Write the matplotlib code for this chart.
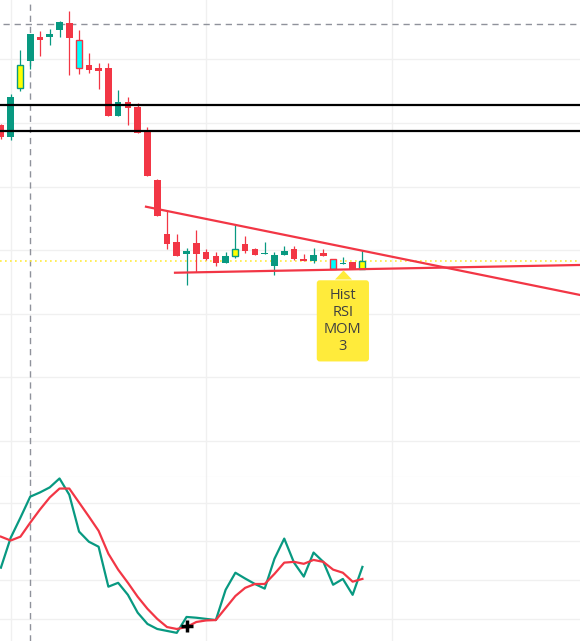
import matplotlib.pyplot as plt
from matplotlib.transforms import offset_copy

# candles (price units, hidden axis)
opens  = [3.484, 3.390, 3.775, 3.987, 4.176, 4.176, 4.231, 4.286, 4.153, 3.956,
          3.932, 3.932, 3.555, 3.665, 3.626, 3.429, 3.052, 2.627, 2.565, 2.470,
          2.557, 2.486, 2.454, 2.399, 2.454, 2.549, 2.509, 2.474, 2.376, 2.462,
          2.509, 2.431, 2.415, 2.478, 2.431, 2.395, 2.407, 2.352]
highs  = [3.492, 3.728, 4.074, 4.200, 4.223, 4.239, 4.302, 4.381, 4.231, 4.050,
          3.972, 3.972, 3.759, 3.704, 3.657, 3.469, 3.060, 2.808, 2.627, 2.517,
          2.659, 2.509, 2.486, 2.486, 2.698, 2.612, 2.517, 2.565, 2.486, 2.533,
          2.533, 2.470, 2.517, 2.509, 2.431, 2.447, 2.407, 2.502]
lows   = [3.374, 3.366, 3.752, 3.925, 4.027, 4.113, 4.176, 3.877, 3.885, 3.893,
          3.767, 3.555, 3.555, 3.484, 3.421, 3.083, 2.769, 2.509, 2.454, 2.226,
          2.329, 2.423, 2.376, 2.399, 2.439, 2.478, 2.462, 2.474, 2.305, 2.462,
          2.423, 2.415, 2.399, 2.454, 2.352, 2.392, 2.352, 2.352]
closes = [3.390, 3.704, 3.956, 4.200, 4.153, 4.200, 4.294, 4.168, 3.932, 3.917,
          3.909, 3.555, 3.665, 3.618, 3.421, 3.083, 2.769, 2.549, 2.454, 2.494,
          2.470, 2.431, 2.399, 2.454, 2.509, 2.494, 2.462, 2.482, 2.462, 2.494,
          2.431, 2.415, 2.462, 2.454, 2.352, 2.403, 2.352, 2.415]
hl_up = [2, 24, 37]
hl_dn = [8, 34]

# levels and trend lines
levels = [3.644, 3.440]
cross_price = 4.276
cross_bar = 3
trend1 = [(14.85, 2.842), (38.80, 2.468)]
trend2 = [(17.82, 2.323), (59.27, 2.384)]

# indicator pane
fast = [33.2, 40.9, 46.1, 51.5, 52.6, 53.9, 56.2, 52.0, 42.5, 39.9,
        38.6, 28.3, 29.3, 26.2, 21.6, 18.7, 17.4, 16.9, 16.4, 20.5,
        20.3, 20.0, 19.7, 27.5, 31.9, 30.4, 29.0, 27.8, 35.5, 40.7,
        34.5, 30.9, 37.1, 34.7, 28.8, 30.3, 26.2, 33.4]
slow = [41.2, 40.2, 41.2, 44.8, 48.2, 51.3, 53.6, 53.6, 50.0, 46.4,
        42.7, 36.8, 32.7, 29.3, 25.7, 22.6, 20.0, 17.9, 17.4, 17.9,
        19.2, 19.6, 19.7, 22.8, 25.9, 28.0, 29.0, 29.0, 31.6, 34.5,
        34.7, 34.2, 35.2, 34.7, 32.7, 31.9, 29.6, 30.3]
cursor = (19, 18.2)

label_bar = 35
label_text = "Hist\nRSI\nMOM\n3"

GREEN = "#089981"
RED = "#F23645"
GRID = "#f0f0f0"
XLIM = (-0.092, 59.27)

fig = plt.figure(figsize=(5.8, 6.41), dpi=100)
ax = fig.add_axes([0, 0.2566, 1, 0.7434])
ax2 = fig.add_axes([0, 0, 1, 0.2566])

for a in (ax, ax2):
    a.set_xlim(XLIM)
    a.set_xticks([1, 21, 40])
    a.tick_params(length=0, labelleft=False, labelbottom=False)
    a.grid(True, color=GRID, lw=1)
    a.set_axisbelow(True)
    for s in a.spines.values():
        s.set_visible(False)
    a.axvline(cross_bar, color="#8f929b", lw=1, dashes=(4.5, 3.5), zorder=1)

ax.set_ylim(0.721, 4.467)
ax.set_yticks([1.0, 1.5, 2.0, 2.5, 3.0, 3.5, 4.0])
ax.spines["bottom"].set_visible(True)
ax.spines["bottom"].set_color("#e0e3eb")

ax.axhline(cross_price, xmin=0.006, color="#8f929b", lw=1, dashes=(4.5, 3.5), zorder=1)
ax.axhline(closes[-1], color="#FFEB3B", lw=1.2, ls=(0, (1, 2)), zorder=1)
for lv in levels:
    ax.axhline(lv, color="black", lw=1.6, zorder=4)

for i in range(len(opens)):
    o, h, l, c = opens[i], highs[i], lows[i], closes[i]
    col = GREEN if c >= o else RED
    ax.vlines(i, l, h, color=col, lw=0.9, zorder=2)
    bot = min(o, c)
    ht = max(abs(c - o), 0.008)
    if i in hl_up:
        ax.bar(i, ht, 0.62, bot, color="#FFFF00", edgecolor=GREEN, lw=1, zorder=3)
    elif i in hl_dn:
        ax.bar(i, ht, 0.62, bot, color="#00FFFF", edgecolor=RED, lw=1, zorder=3)
    else:
        ax.bar(i, ht, 0.68, bot, color=col, lw=0, zorder=3)

for (x0, y0), (x1, y1) in (trend1, trend2):
    slope = (y1 - y0) / (x1 - x0)
    ax.plot([x0, 70], [y0, y0 + slope * (70 - x0)], color=RED, lw=1.6, zorder=3)

# label below bar
tip = offset_copy(ax.transData, fig=fig, x=0, y=-4.5, units="points")
ax.plot(label_bar, lows[label_bar], transform=tip, marker=[(-0.94, -1), (0.94, -1), (0, 0)],
        ms=13, color="#FFEB3B", mec="none", zorder=5, clip_on=False)
ax.annotate(label_text, xy=(label_bar, lows[label_bar]), xytext=(0, -17),
            textcoords="offset points", ha="center", va="top", fontsize=10.5,
            family=["Open Sans", "DejaVu Sans"], color="#404040", linespacing=1.2,
            bbox=dict(boxstyle="round,pad=0.5,rounding_size=0.2", fc="#FFEB3B", ec="none"),
            zorder=6)

ax2.set_ylim(14.3, 56.7)
ax2.set_yticks([20, 30, 40, 50])
x = list(range(len(fast)))
ax2.plot(x, fast, color=GREEN, lw=1.6, zorder=3)
ax2.plot(x, slow, color=RED, lw=1.6, zorder=3)
ax2.plot(*cursor, marker="+", ms=8, mew=2.5, color="black", zorder=5)

fig.savefig("out.png", dpi=100)
